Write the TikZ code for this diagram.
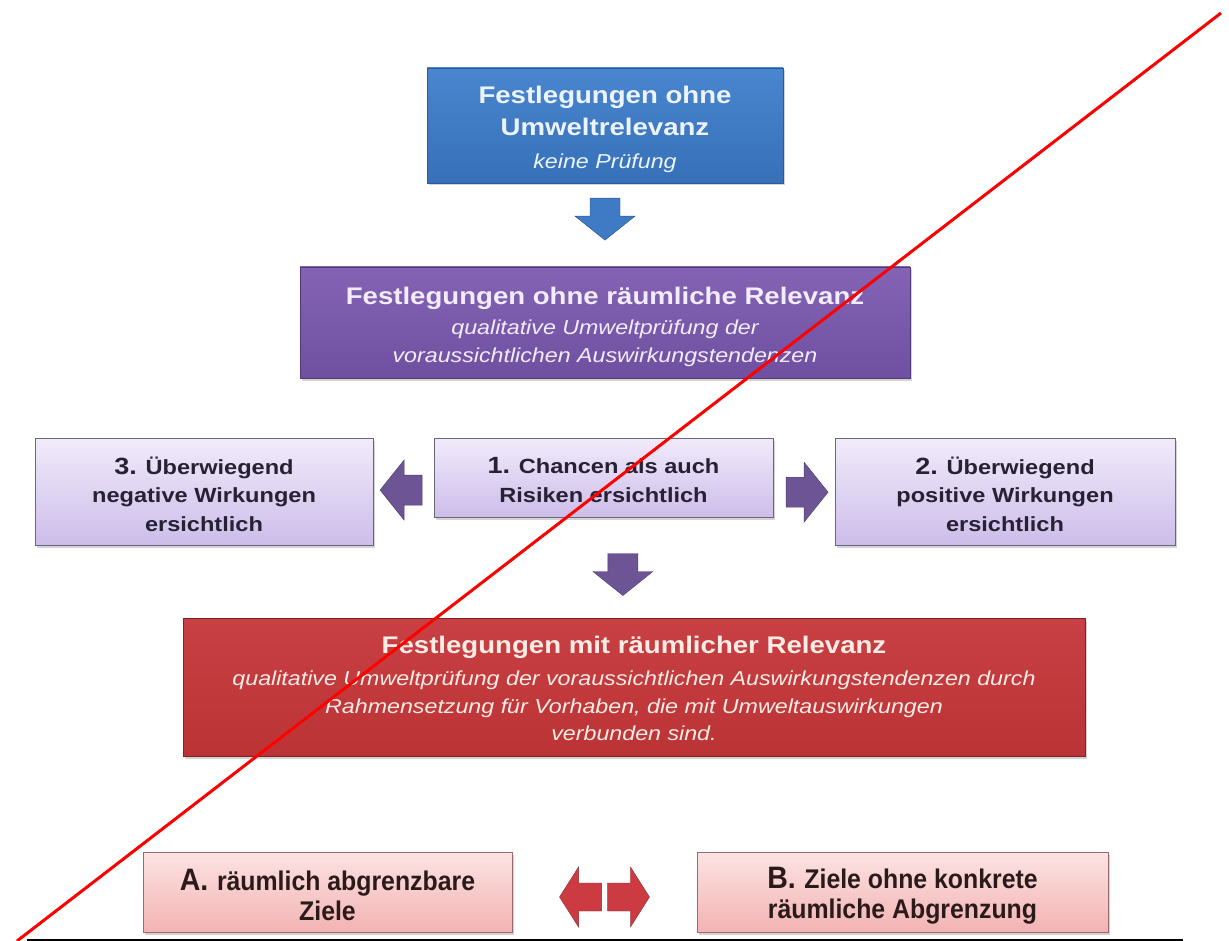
\documentclass[tikz,border=0pt]{standalone}
\usepackage{fontspec}
\setmainfont{Liberation Sans}[FakeStretch=1.15]
\newfontfamily\narrowfont{Liberation Sans}[FakeStretch=0.92]
\usetikzlibrary{calc,shadows}

\definecolor{bluetop}{HTML}{4A86CF}
\definecolor{bluebot}{HTML}{3570B8}
\definecolor{blueedge}{HTML}{2A5A98}
\definecolor{bluetext}{HTML}{EEF4FF}
\definecolor{purptop}{HTML}{8463B5}
\definecolor{purpbot}{HTML}{6F50A0}
\definecolor{purpedge}{HTML}{4E3A75}
\definecolor{purptext}{HTML}{F3ECFF}
\definecolor{lavtop}{HTML}{F1EBFA}
\definecolor{lavbot}{HTML}{CDBDEA}
\definecolor{lavedge}{HTML}{6A6678}
\definecolor{darktext}{HTML}{262233}
\definecolor{redtop}{HTML}{C94044}
\definecolor{redbot}{HTML}{BC3336}
\definecolor{rededge}{HTML}{7A2426}
\definecolor{redtext}{HTML}{FBEDE5}
\definecolor{pinktop}{HTML}{FCE3E3}
\definecolor{pinkbot}{HTML}{F3B3B3}
\definecolor{pinkedge}{HTML}{9A6A6A}
\definecolor{pinktext}{HTML}{2A1A1A}
\definecolor{arrblue}{HTML}{3F7BC4}
\definecolor{arrpurp}{HTML}{6D5595}
\definecolor{arrred}{HTML}{CC3B42}

\newcommand\mytitle{\fontsize{24}{32}\selectfont\bfseries}
\newcommand\mysub{\fontsize{20.2}{27.5}\selectfont\itshape}
\newcommand\mybody{\fontsize{20.5}{28.5}\selectfont\bfseries}
\newcommand\mynum{\fontsize{23.5}{28.5}\selectfont\bfseries}
\newcommand\mynarrow{\narrowfont\fontsize{27}{30}\selectfont\bfseries}
\newcommand\mynarrownum{\narrowfont\fontsize{31}{30}\selectfont\bfseries}
\newcommand\topstrut[1]{\rule{0pt}{#1}}

\tikzset{
  box/.style={rectangle, draw, line width=0.8pt, inner sep=0pt, align=center,
    drop shadow={shadow xshift=2pt, shadow yshift=-2.5pt, opacity=0.35}},
  bluebox/.style={box, draw=blueedge, top color=bluetop, bottom color=bluebot, text=bluetext},
  purpbox/.style={box, draw=purpedge, top color=purptop, bottom color=purpbot, text=purptext},
  lavbox/.style={box, draw=lavedge, top color=lavtop, bottom color=lavbot, text=darktext,
    font=\fontsize{20.5}{28.5}\selectfont},
  redbox/.style={box, draw=rededge, top color=redtop, bottom color=redbot, text=redtext},
  pinkbox/.style={box, draw=pinkedge, top color=pinktop, bottom color=pinkbot, text=pinktext,
    font=\fontsize{27}{30}\selectfont},
  pics/barrow/.style={code={
    \fill[#1, draw=#1!70!black, line width=0.4pt]
      (-15,-21) -- (15,-21) -- (15,-3) -- (30,-3) -- (0,21) -- (-30,-3) -- (-15,-3) -- cycle;}},
  pics/narrow/.style={code={
    \fill[#1, draw=#1!70!black, line width=0.4pt]
      (-14,-21) -- (14,-21) -- (14,2) -- (30,2) -- (0,21) -- (-30,2) -- (-14,2) -- cycle;}},
}

\begin{document}
\begin{tikzpicture}[x=1pt,y=-1pt]
\useasboundingbox (0,0) rectangle (1229,941);

\node[bluebox, minimum width=356pt, minimum height=115pt, font=\fontsize{20}{32.5}\selectfont] (blue) at (605,125.5)
  {\topstrut{25pt}\mytitle Festlegungen ohne\\ \mytitle Umweltrelevanz\\ \mysub keine Prüfung};

\node[purpbox, minimum width=610pt, minimum height=111pt, font=\fontsize{20}{28}\selectfont] (purple) at (605,322.5)
  {\topstrut{27pt}\mytitle Festlegungen ohne räumliche Relevanz\\[2pt]
   \mysub qualitative Umweltprüfung der\\
   \mysub voraussichtlichen Auswirkungstendenzen};

\node[lavbox, minimum width=338pt, minimum height=107pt] (neg) at (204,491.5)
  {\topstrut{23pt}{\mynum 3.} \mybody Überwiegend\\ \mybody negative Wirkungen\\ \mybody ersichtlich};

\node[lavbox, minimum width=339pt, minimum height=79pt] (both) at (603.5,477.5)
  {\topstrut{21pt}{\mynum 1.} \mybody Chancen als auch\\ \mybody Risiken ersichtlich};

\node[lavbox, minimum width=340pt, minimum height=107pt] (pos) at (1005,491.5)
  {\topstrut{23pt}{\mynum 2.} \mybody Überwiegend\\ \mybody positive Wirkungen\\ \mybody ersichtlich};

\node[redbox, minimum width=902pt, minimum height=138pt, font=\fontsize{20}{27.5}\selectfont] (red) at (634,687)
  {\topstrut{20pt}\mytitle Festlegungen mit räumlicher Relevanz\\[5pt]
   \mysub qualitative Umweltprüfung der voraussichtlichen Auswirkungstendenzen durch\\
   \mysub Rahmensetzung für Vorhaben, die mit Umweltauswirkungen\\
   \mysub verbunden sind.};

\node[pinkbox, minimum width=369pt, minimum height=80pt] (zA) at (327.5,892)
  {\topstrut{28pt}{\mynarrownum A.} \mynarrow räumlich abgrenzbare\\ \mynarrow Ziele};

\node[pinkbox, minimum width=411pt, minimum height=80pt] (zB) at (902.5,892)
  {\topstrut{28pt}{\mynarrownum B.} \mynarrow Ziele ohne konkrete\\ \mynarrow räumliche Abgrenzung};

% block arrows between the boxes
\pic at ($(blue.south)!0.43!(purple.north)$) {barrow=arrblue};
\pic at ($(both.south)!0.57!(red.north) + (2,0)$) {barrow=arrpurp};
\pic[rotate=-90] at ($(neg.east)!0.46!(both.west) + (0,5)$) {barrow=arrpurp};
\pic[rotate=90] at ($(both.east)!0.55!(pos.west) + (0,7)$) {barrow=arrpurp};
\pic[rotate=-90] at ($(zA.east)!0.37!(zB.west) + (0,5)$) {narrow=arrred};
\pic[rotate=90] at ($(zA.east)!0.63!(zB.west) + (0,5)$) {narrow=arrred};

% bottom rule
\coordinate (ruleL) at (27,940);
\coordinate (ruleR) at (1183,940);
\draw[line width=1.3pt, black] (ruleL) -- (ruleR);

% red diagonal line
\coordinate (diagA) at (1221,13);
\coordinate (diagB) at (17,941);
\draw[red, line width=3pt] (diagA) -- (diagB);
\end{tikzpicture}
\end{document}
